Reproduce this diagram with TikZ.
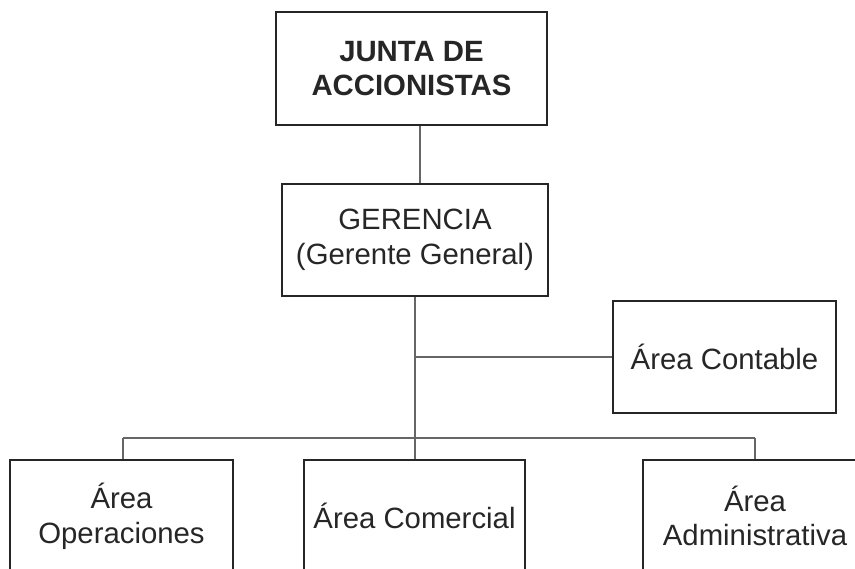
\documentclass[tikz,border=0pt]{standalone}
\usepackage{fontspec}
\setmainfont{Liberation Sans}
\begin{document}
\begin{tikzpicture}[x=0.75pt,y=-0.75pt,
  box/.style={draw=black!85, line width=1.6pt, align=center, inner sep=0pt,
    minimum height=84pt, font=\fontsize{22}{26}\selectfont, text=black!85},
  conn/.style={draw=black!60, line width=1.1pt}]
\useasboundingbox (0,0) rectangle (855,568);
\clip (0,0) rectangle (855,568);
\node[box, minimum width=203.25pt, minimum height=84.75pt, font=\fontsize{22}{26}\selectfont\bfseries] (junta) at (411.5,68.5) {JUNTA DE\\ACCIONISTAS};
\node[box, minimum width=199.5pt] (gerencia) at (415,240) {GERENCIA\\(Gerente General)};
\node[box, minimum width=167.25pt] (contable) at (724.5,357) {Área Contable};
\node[box, minimum width=167.25pt] (oper) at (121.5,516) {Área\\Operaciones};
\node[box, minimum width=165.75pt] (comer) at (414.5,516) {Área Comercial};
\node[box, minimum width=168pt] (admin) at (755,516) {Área\\Administrativa};
\coordinate (t1) at (420,0);
\coordinate (t2) at (415,0);
\coordinate (bus) at (0,438);
\coordinate (busL) at (123,438);
\coordinate (busR) at (755,438);
\draw[conn] (junta.south -| t1) -- (gerencia.north -| t1);
\draw[conn] (gerencia.south -| t2) -- (comer.north -| t2);
\draw[conn] (contable.west -| t2) -- (contable.west);
\draw[conn] (busL) -- (busR);
\draw[conn] (busL) -- (oper.north -| busL);
\draw[conn] (busR) -- (admin.north -| busR);
\end{tikzpicture}
\end{document}
